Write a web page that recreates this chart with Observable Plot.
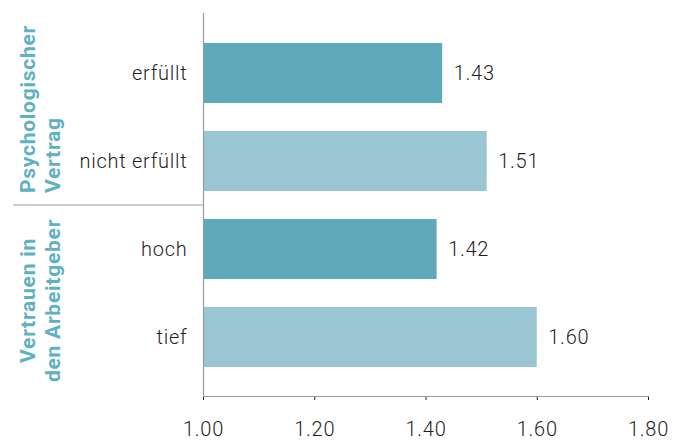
<!DOCTYPE html>
<html>
<head>
<meta charset="utf-8">
<script src="https://cdn.jsdelivr.net/npm/d3@7"></script>
<script src="https://cdn.jsdelivr.net/npm/@observablehq/plot@0.6"></script>
<style>
  html, body { margin: 0; padding: 0; background: #fff; }
  #chart svg { display: block; }
  #chart svg text { letter-spacing: 0.75px; }
</style>
</head>
<body>
<div id="chart"></div>
<script>
// Categories (top to bottom) and their mean values
const categories = ["erfüllt", "nicht erfüllt", "hoch", "tief"];
const values = [1.43, 1.51, 1.42, 1.60];
const shade = ["dark", "light", "dark", "light"];

// Group headings, each covering a pair of categories
const groupNames = [["Psychologischer", "Vertrag"], ["Vertrauen in", "den Arbeitgeber"]];
const groupMembers = [["erfüllt", "nicht erfüllt"], ["hoch", "tief"]];

// Value axis
const xDomain = [1.0, 1.8];
const xTicks = [1.0, 1.2, 1.4, 1.6, 1.8];

const rows = categories.map((c, i) => ({category: c, value: values[i], shade: shade[i]}));

const teal = "#5eaabb";
const tealLight = "#99c6d2";
const axisGray = "#9b9b9b";
const textColor = "#1e1e1e";
const fontFamily = "Roboto, 'Liberation Sans', sans-serif";

const chart = Plot.plot({
  width: 694,
  height: 448,
  marginTop: 13,
  marginBottom: 52,
  marginLeft: 203,
  marginRight: 46,
  style: {fontFamily, fontSize: "20px", fontWeight: 300, color: textColor, background: "#fff"},
  x: {domain: xDomain, ticks: xTicks, tickFormat: ".2f", tickSize: 4, tickPadding: 21, label: null},
  y: {domain: categories, padding: 0.32, tickSize: 0, tickPadding: 16, label: null},
  color: {domain: ["dark", "light"], range: [teal, tealLight]},
  marks: [
    Plot.barX(rows, {x1: xDomain[0], x2: "value", y: "category", fill: "shade"}),
    Plot.text(rows, {x: "value", y: "category", text: d => d.value.toFixed(2), textAnchor: "start", dx: 11, fill: textColor, fontSize: 20}),
    Plot.ruleX([xDomain[0]], {stroke: axisGray, strokeWidth: 1.2}),
    Plot.frame({anchor: "bottom", stroke: axisGray, strokeWidth: 1.2})
  ]
});

document.getElementById("chart").appendChild(chart);

// Group separator and rotated group headings, placed with the chart's y scale
const svg = d3.select(chart);
const y = chart.scale("y");
const start = v => y.apply(v);
const gap = y.step - y.bandwidth;
const frameBottom = Math.max(...y.range);
const labelX = 40;
const lineGap = 25;

const sep = start(groupMembers[1][0]) - gap / 2;
svg.append("line")
  .attr("x1", 13).attr("x2", 203)
  .attr("y1", sep).attr("y2", sep)
  .attr("stroke", axisGray).attr("stroke-width", 1.2);

function heading(lines, cy, anchor) {
  const g = svg.append("g")
    .attr("transform", `translate(${labelX},${cy}) rotate(-90)`)
    .attr("font-family", fontFamily)
    .attr("font-weight", 700)
    .attr("font-size", 21)
    .attr("fill", "#5eb1c3")
    .attr("text-anchor", anchor)
    .style("letter-spacing", "1.2px");
  lines.forEach((t, i) => {
    g.append("text")
      .attr("x", 0)
      .attr("y", (i - (lines.length - 1) / 2) * lineGap)
      .attr("dy", "0.35em")
      .text(t);
  });
}

heading(groupNames[0], sep - 12, "start");
heading(groupNames[1], (sep + frameBottom) / 2, "middle");
</script>
</body>
</html>
